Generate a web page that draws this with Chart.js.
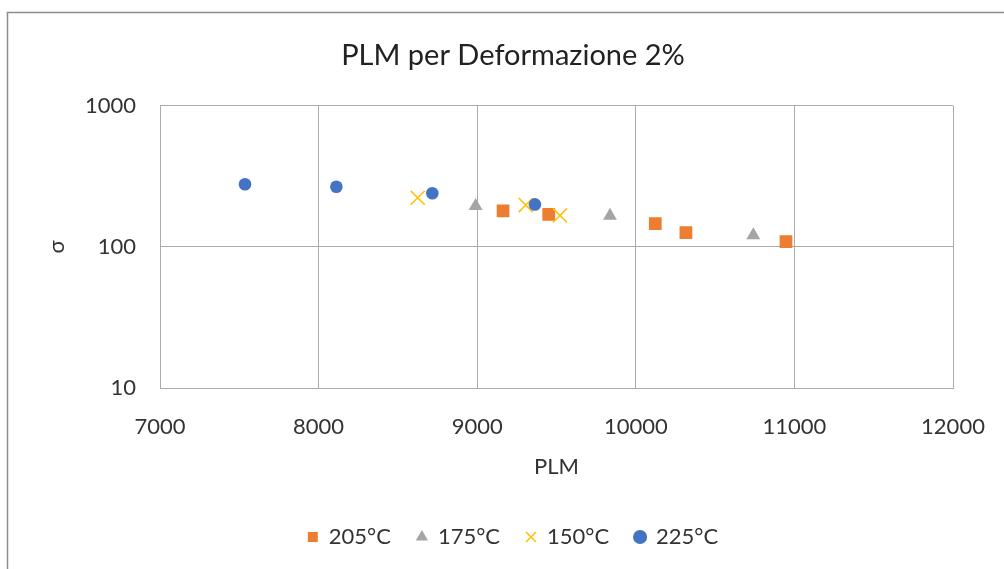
<!DOCTYPE html>
<html>
<head>
<meta charset="utf-8">
<script src="https://cdn.jsdelivr.net/npm/chart.js@4/dist/chart.umd.min.js"></script>
<style>
  html, body { margin: 0; padding: 0; background: #fff; }
  #wrap { width: 1004px; height: 569px; }
</style>
</head>
<body>
<div id="wrap"><canvas id="plm-chart" width="1004" height="569"></canvas></div>
<script>
// data
const seriesNames = ['205°C', '175°C', '150°C', '225°C'];
const plm205 = [9163, 9451, 10123, 10316, 10947];
const sig205 = [180, 170, 146, 126, 109];
const plm175 = [8990, 9837, 10741];
const sig175 = [195, 166, 121];
const plm150 = [8625, 9306, 9522];
const sig150 = [223, 198, 167];
const plm225 = [7536, 8112, 8717, 9364];
const sig225 = [278, 267, 240, 200];
const yTicks = [10, 100, 1000];
const xTicks = [7000, 8000, 9000, 10000, 11000, 12000];

const FONT = 'Lato, "Open Sans", sans-serif';
const gridColor = '#ABABAB';

function pts(xs, ys) {
  return xs.map((x, i) => ({ x: x, y: ys[i] }));
}

// grey frame of the chart box (only top and left are visible)
const framePlugin = {
  id: 'frame',
  beforeDraw(chart) {
    const ctx = chart.ctx;
    ctx.save();
    ctx.strokeStyle = '#8C8C8C';
    ctx.lineWidth = 1.5;
    ctx.beginPath();
    ctx.moveTo(7.5, chart.height);
    ctx.lineTo(7.5, 12.5);
    ctx.lineTo(chart.width, 12.5);
    ctx.stroke();
    ctx.restore();
  }
};

const ctx = document.getElementById('plm-chart').getContext('2d');
new Chart(ctx, {
  type: 'scatter',
  data: {
    datasets: [
      {
        label: seriesNames[0], data: pts(plm205, sig205), order: 4,
        pointStyle: 'rect', pointRadius: 9, backgroundColor: '#ED7D31', borderColor: '#ED7D31', borderWidth: 0
      },
      {
        label: seriesNames[1], data: pts(plm175, sig175), order: 3,
        pointStyle: 'triangle', pointRadius: 8, backgroundColor: '#A5A5A5', borderColor: '#A5A5A5', borderWidth: 0
      },
      {
        label: seriesNames[2], data: pts(plm150, sig150), order: 2,
        pointStyle: 'crossRot', pointRadius: 10, backgroundColor: '#FFC000', borderColor: '#FFC000', borderWidth: 1.5
      },
      {
        label: seriesNames[3], data: pts(plm225, sig225), order: 1,
        pointStyle: 'circle', pointRadius: 6.3, backgroundColor: '#4472C4', borderColor: '#4472C4', borderWidth: 0
      }
    ]
  },
  options: {
    responsive: false,
    animation: false,
    layout: { padding: { left: 22, right: 0, top: 0, bottom: 11 } },
    plugins: {
      tooltip: { enabled: false },
      title: {
        display: true,
        text: 'PLM per Deformazione 2%',
        color: '#222',
        font: { family: FONT, size: 29, weight: 'normal' },
        padding: { top: 38, bottom: 33 }
      },
      legend: {
        position: 'bottom',
        labels: {
          usePointStyle: true,
          boxWidth: 10,
          boxHeight: 10,
          color: '#333',
          padding: 26,
          font: { family: FONT, size: 22 },
          sort: (a, b) => a.datasetIndex - b.datasetIndex
        }
      }
    },
    scales: {
      x: {
        type: 'linear',
        min: 7000,
        max: 12000,
        afterBuildTicks: (s) => { s.ticks = xTicks.map(v => ({ value: v })); },
        afterFit: (s) => { s.height = 112; },
        grid: { color: gridColor, drawTicks: true, tickLength: 7, tickColor: 'rgba(0,0,0,0)' },
        border: { color: gridColor },
        ticks: {
          color: '#333', padding: 19, maxRotation: 0, font: { family: FONT, size: 22 },
          callback: (v) => String(v)
        },
        title: {
          display: true, text: 'PLM', color: '#333',
          font: { family: FONT, size: 22 },
          padding: { top: 0, bottom: 20 }
        }
      },
      y: {
        type: 'logarithmic',
        min: 10,
        max: 1000,
        afterBuildTicks: (s) => { s.ticks = yTicks.map(v => ({ value: v })); },
        afterFit: (s) => { s.width = 138; },
        grid: { color: gridColor, drawTicks: false },
        border: { color: gridColor },
        ticks: {
          color: '#333', padding: 24, font: { family: FONT, size: 22 },
          callback: (v) => String(v)
        },
        title: {
          display: true, text: 'σ', color: '#333',
          font: { family: FONT, size: 22 },
          padding: { top: 22, bottom: 0 }
        }
      },
      yRight: {
        position: 'right',
        display: true,
        afterFit: (s) => { s.width = 51; },
        grid: { display: false },
        border: { display: false },
        ticks: { display: false }
      }
    }
  },
  plugins: [framePlugin]
});
</script>
</body>
</html>
